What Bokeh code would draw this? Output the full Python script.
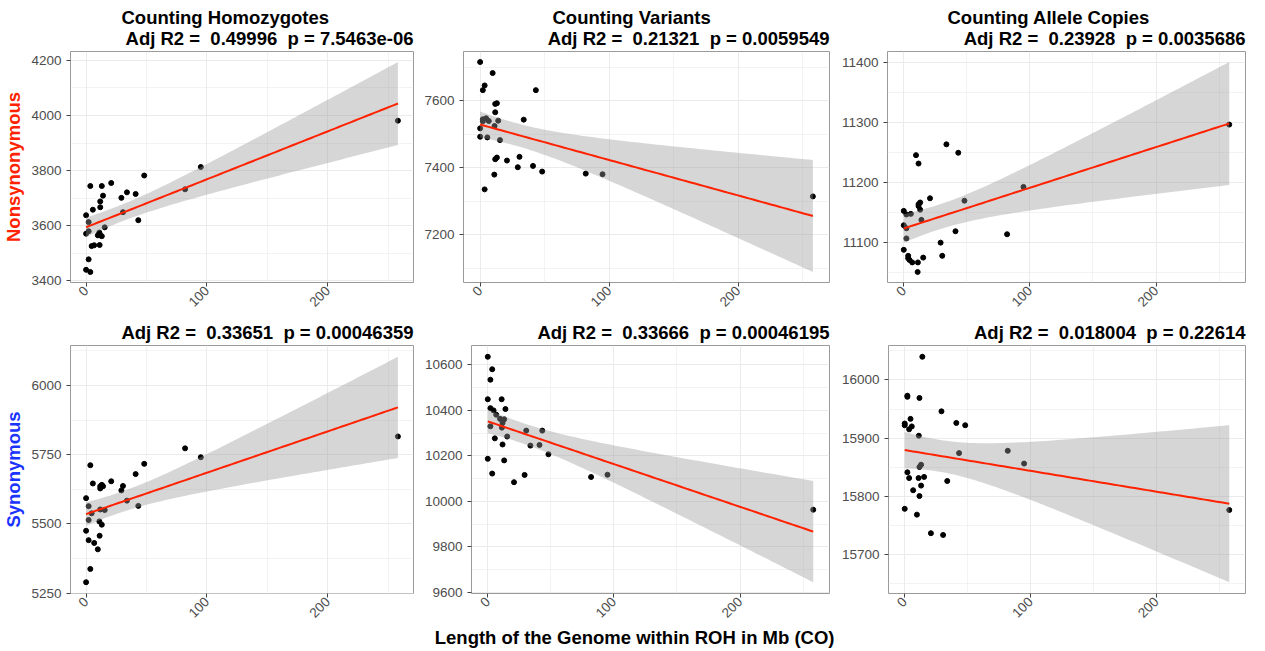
import numpy as np
from bokeh.plotting import figure
from bokeh.layouts import column, row
from bokeh.models import Range1d, FixedTicker, Title
from bokeh.embed import file_html
from bokeh.resources import INLINE

# ---------------- data ----------------
roh_mb = [0, 0, 0, 2.1, 2.1, 2.1, 3.5, 3.5, 4.6, 5.6, 6.7, 9.7, 11.0, 11.2,
          11.7, 11.7, 11.7, 13.0, 13.0, 14.0, 15.4, 20.8, 29.2, 30.5, 33.8,
          41.0, 43.2, 48.1, 81.9, 94.9, 258.0]

nonsyn_homozygotes = [3638, 3571, 3440, 3613, 3580, 3478, 3744, 3432, 3526, 3658,
                      3529, 3565, 3575, 3530, 3688, 3667, 3565, 3744, 3562, 3709,
                      3594, 3755, 3701, 3649, 3721, 3715, 3620, 3782, 3732, 3813, 3981]
nonsyn_variants = [7715, 7517, 7492, 7631, 7538, 7544, 7645, 7335, 7547, 7490,
                   7539, 7682, 7379, 7524, 7590, 7565, 7425, 7592, 7430, 7540,
                   7482, 7421, 7401, 7432, 7543, 7405, 7631, 7388, 7382, 7380, 7314]
nonsyn_alleles = [11152, 11128, 11087, 11146, 11123, 11106, 11077, 11073, 11070, 11147,
                  11066, 11245, 11050, 11066, 11231, 11163, 11160, 11166, 11154, 11137,
                  11074, 11173, 11099, 11077, 11263, 11118, 11249, 11169, 11113, 11192, 11296]
syn_homozygotes = [5593, 5475, 5289, 5564, 5514, 5441, 5712, 5337, 5538, 5646,
                   5431, 5408, 5509, 5457, 5628, 5552, 5636, 5641, 5497, 5636,
                   5550, 5654, 5621, 5637, 5584, 5680, 5565, 5717, 5773, 5741, 5816]
syn_variants = [10636, 10449, 10187, 10535, 10410, 10330, 10581, 10122, 10400, 10277,
                10381, 10363, 10449, 10324, 10250, 10345, 10355, 10361, 10180, 10406,
                10285, 10084, 10116, 10311, 10245, 10248, 10311, 10207, 10107, 10117, 9963]
syn_alleles = [15925, 15922, 15778, 15973, 15971, 15841, 15915, 15831, 15933, 15920,
               15810, 15768, 15831, 15904, 15969, 15800, 15850, 15854, 15818, 16040,
               15833, 15736, 15946, 15733, 15826, 15926, 15874, 15922, 15878, 15856, 15776]

column_titles = ["Counting Homozygotes", "Counting Variants", "Counting Allele Copies"]
# a no-break space keeps the double spacing of the original titles visible
top_stats = ["Adj R2 = \u00a00.49996 \u00a0p = 7.5463e-06",
             "Adj R2 = \u00a00.21321 \u00a0p = 0.0059549",
             "Adj R2 = \u00a00.23928 \u00a0p = 0.0035686"]
bottom_stats = ["Adj R2 = \u00a00.33651 \u00a0p = 0.00046359",
                "Adj R2 = \u00a00.33666 \u00a0p = 0.00046195",
                "Adj R2 = \u00a00.018004 \u00a0p = 0.22614"]
row_labels = ["Nonsynonymous", "Synonymous"]
x_label = "Length of the Genome within ROH in Mb (CO)"

x_ticks = [0, 100, 200]
y_ticks = [[3400, 3600, 3800, 4000, 4200],
           [7200, 7400, 7600],
           [11100, 11200, 11300, 11400],
           [5250, 5500, 5750, 6000],
           [9600, 9800, 10000, 10200, 10400, 10600],
           [15700, 15800, 15900, 16000]]

# ---------------- style ----------------
FONT = "Liberation Sans"
RED = "#FF2200"
BLUE = "#1A33FF"
GRID = "#EBEBEB"
T_975 = 2.045  # t quantile, df = n - 2
TITLE_SIZE = "18.5px"


def minor_of(ticks):
    step = ticks[1] - ticks[0]
    return [ticks[0] - step / 2] + [t + step / 2 for t in ticks]


def fit_band(x, y):
    x = np.asarray(x, float)
    y = np.asarray(y, float)
    n = len(x)
    b1, b0 = np.polyfit(x, y, 1)
    xg = np.linspace(x.min(), x.max(), 80)
    yhat = b0 + b1 * xg
    resid = y - (b0 + b1 * x)
    s = np.sqrt((resid ** 2).sum() / (n - 2))
    sxx = ((x - x.mean()) ** 2).sum()
    se = s * np.sqrt(1.0 / n + (xg - x.mean()) ** 2 / sxx)
    return xg, yhat, yhat - T_975 * se, yhat + T_975 * se


def title(text, align, offset, standoff):
    return Title(text=text, align=align, offset=offset, standoff=standoff,
                 text_font=FONT, text_font_style="bold",
                 text_font_size=TITLE_SIZE, text_color="black")


def panel(yvals, yt, width, height, bl, br, bt, bb, stat, col_title=None,
          col_offset=0, ylab=None, ylab_color=None, xlab=None):
    xg, yhat, lo, hi = fit_band(roh_mb, yvals)
    xmin, xmax = min(roh_mb), max(roh_mb)
    xpad = 0.05 * (xmax - xmin)
    ymin = min(min(yvals), lo.min())
    ymax = max(max(yvals), hi.max())
    ypad = 0.05 * (ymax - ymin)
    p = figure(width=width, height=height,
               x_range=Range1d(xmin - xpad, xmax + xpad),
               y_range=Range1d(ymin - ypad, ymax + ypad),
               output_backend="svg", toolbar_location=None,
               min_border_left=bl, min_border_right=br,
               min_border_top=bt, min_border_bottom=bb)
    p.title.visible = False
    p.background_fill_color = "white"
    p.border_fill_color = "white"
    p.outline_line_color = "#9A9A9A"
    p.outline_line_width = 1

    p.xaxis.ticker = FixedTicker(ticks=x_ticks, minor_ticks=minor_of(x_ticks))
    p.yaxis.ticker = FixedTicker(ticks=yt, minor_ticks=minor_of(yt))
    for g in (p.xgrid, p.ygrid):
        g.grid_line_color = GRID
        g.grid_line_width = 1
        g.minor_grid_line_color = GRID
        g.minor_grid_line_width = 0.6
    for ax in (p.xaxis, p.yaxis):
        ax.axis_line_color = None
        ax.minor_tick_line_color = None
        ax.major_tick_line_color = "#444444"
        ax.major_tick_out = 4
        ax.major_tick_in = 0
        ax.major_label_standoff = 5
        ax.major_label_text_font = FONT
        ax.major_label_text_font_size = "13.5px"
        ax.major_label_text_color = "#4D4D4D"
    p.xaxis.major_label_orientation = np.pi / 4
    p.xaxis.major_label_standoff = 2

    if ylab:
        p.yaxis.axis_label = ylab
        p.yaxis.axis_label_text_color = ylab_color
        p.yaxis.axis_label_text_font = FONT
        p.yaxis.axis_label_text_font_style = "bold"
        p.yaxis.axis_label_text_font_size = TITLE_SIZE
        p.yaxis.axis_label_standoff = 4

    p.scatter(roh_mb, yvals, size=5, color="black")
    p.varea(x=xg, y1=lo, y2=hi, fill_color="#999999", fill_alpha=0.4)
    p.line(xg, yhat, line_color=RED, line_width=2)

    p.add_layout(title(stat, "right", 0, 5), "above")
    if col_title:
        p.add_layout(title(col_title, "left", col_offset, -8), "above")
    if xlab:
        p.add_layout(title(xlab, "right", -5, 0), "below")
    return p


# top row
f1 = panel(nonsyn_homozygotes, y_ticks[0], 421, 317, 63, 8, 51, 35,
           top_stats[0], column_titles[0], 51, row_labels[0], RED)
f2 = panel(nonsyn_variants, y_ticks[1], 417, 317, 39, 9, 51, 35,
           top_stats[1], column_titles[1], 89)
f3 = panel(nonsyn_alleles, y_ticks[2], 411, 317, 47, 4, 51, 35,
           top_stats[2], column_titles[2], 60)
# bottom row
f4 = panel(syn_homozygotes, y_ticks[3], 421, 331, 63, 8, 25, 55,
           bottom_stats[0], None, 0, row_labels[1], BLUE)
f5 = panel(syn_variants, y_ticks[4], 417, 331, 48, 9, 25, 55,
           bottom_stats[1], None, 0, None, None, x_label)
f6 = panel(syn_alleles, y_ticks[5], 411, 331, 47, 4, 25, 55,
           bottom_stats[2])

layout = column(row(f1, f2, f3), row(f4, f5, f6))
open("out.html", "w").write(file_html(layout, INLINE))
